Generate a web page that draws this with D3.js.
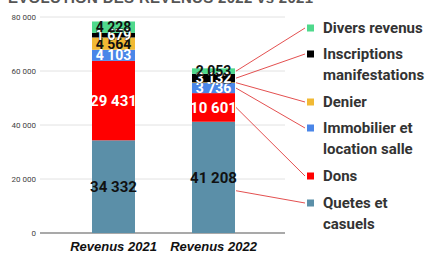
<!DOCTYPE html>
<html>
<head>
<meta charset="utf-8">
<script src="https://cdn.jsdelivr.net/npm/d3@7"></script>
<style>
  body { margin: 0; background: #fff; }
  svg { display: block; font-family: "Liberation Sans", Arial, sans-serif; }
</style>
</head>
<body>
<script>
var width = 445, height = 257;

// data
var years = ["Revenus 2021", "Revenus 2022"];
var seriesNames = ["Quetes et casuels", "Dons", "Immobilier et location salle", "Denier", "Inscriptions manifestations", "Divers revenus"];
var quetes = [34332, 41208];
var dons = [29431, 10601];
var immobilier = [4103, 3736];
var denier = [4564, 250];
var inscriptions = [1679, 3132];
var divers = [4228, 2053];
var yTicks = [0, 20000, 40000, 60000, 80000];

var colors = ["#5b8fa8", "#ff0000", "#4a86e8", "#f1b934", "#000000", "#4fd98c"];
var labelFill = ["#111", "#fff", "#fff", "#111", "#fff", "#111"];
var labelSize = [15, 15, 14, 14, 14, 14];

var legendLines = [["Divers revenus"], ["Inscriptions", "manifestations"], ["Denier"], ["Immobilier et", "location salle"], ["Dons"], ["Quetes et", "casuels"]];
var legendY = [28, 54, 102, 128, 176, 203];

var values = [quetes, dons, immobilier, denier, inscriptions, divers];
var table = years.map(function(y, i) {
  var row = { year: y };
  seriesNames.forEach(function(s, k) { row[s] = values[k][i]; });
  return row;
});
var stacked = d3.stack().keys(seriesNames)(table);

var svg = d3.select("body").append("svg")
  .attr("width", width)
  .attr("height", height);

var y = d3.scaleLinear().domain([0, 80000]).range([233, 17]);
var x = d3.scaleBand().domain(years).range([40, 287]).paddingInner(0.57).paddingOuter(0.52);

// title, mostly cut off at top
svg.append("text")
  .attr("x", 8).attr("y", 3)
  .attr("font-size", 15).attr("font-weight", "bold")
  .attr("fill", "#555")
  .attr("textLength", 305)
  .text("EVOLUTION DES REVENUS 2022 vs 2021");

// grid
svg.append("g").selectAll("line").data(yTicks).enter().append("line")
  .attr("x1", 40).attr("x2", 285)
  .attr("y1", function(d) { return y(d); })
  .attr("y2", function(d) { return y(d); })
  .attr("stroke", function(d) { return d == 0 ? "#555" : "#e2e2e2"; })
  .attr("stroke-width", function(d) { return d == 0 ? 1.2 : 1; });

var fmt = function(v) { return d3.format(",")(v).replace(/,/g, " "); };

var yAxis = d3.axisLeft(y).tickValues(yTicks).tickSize(0).tickFormat(fmt);
var gy = svg.append("g").attr("transform", "translate(36,0)").call(yAxis);
gy.select(".domain").remove();
gy.selectAll("text").attr("font-size", 8).attr("fill", "#444")
  .attr("font-family", "Roboto, sans-serif").attr("x", 0);

var xAxis = d3.axisBottom(x).tickSize(0);
var gx = svg.append("g").attr("transform", "translate(0,239)").call(xAxis);
gx.select(".domain").remove();
gx.selectAll("text").attr("font-size", 13).attr("font-weight", "bold")
  .attr("font-style", "italic").attr("fill", "#111")
  .attr("font-family", "'Liberation Sans', Arial, sans-serif");

// bars
var layers = svg.append("g").selectAll("g").data(stacked).enter().append("g")
  .attr("fill", function(d, i) { return colors[i]; });

layers.selectAll("rect").data(function(d) { return d; }).enter().append("rect")
  .attr("x", function(d) { return x(d.data.year); })
  .attr("width", x.bandwidth())
  .attr("y", function(d) { return y(d[1]); })
  .attr("height", function(d) { return y(d[0]) - y(d[1]); });

// value labels
stacked.forEach(function(layer, k) {
  layer.forEach(function(d, i) {
    var v = d[1] - d[0];
    if (v < 1000) return;
    var t = svg.append("text")
      .attr("x", x(d.data.year) + x.bandwidth() / 2)
      .attr("y", y((d[0] + d[1]) / 2))
      .attr("dy", "0.36em")
      .attr("text-anchor", "middle")
      .attr("font-family", "Roboto, sans-serif")
      .attr("font-weight", "bold")
      .attr("font-size", labelSize[k])
      .attr("fill", labelFill[k])
      .text(fmt(v));
    if (k == 4) t.attr("stroke", "#111").attr("stroke-width", 0.8).attr("paint-order", "stroke");
  });
});

// legend
var lx = 307;
var leg = svg.append("g");
seriesNames.slice().reverse().forEach(function(s, j) {
  var k = seriesNames.length - 1 - j;
  var ly = legendY[j];
  leg.append("rect").attr("x", lx).attr("y", ly - 3.5).attr("width", 7).attr("height", 7)
    .attr("fill", colors[k]);
  legendLines[j].forEach(function(line, n) {
    leg.append("text").attr("x", 323).attr("y", ly + n * 21).attr("dy", "0.36em")
      .attr("font-size", 15).attr("font-weight", "bold").attr("fill", "#333")
      .attr("font-family", "Roboto, 'Liberation Sans', sans-serif")
      .text(line);
  });
  // leader line from 2022 bar segment
  var seg = stacked[k][1];
  var sy = y((seg[0] + seg[1]) / 2);
  if (k == 0) sy = y(seg[0] + (seg[1] - seg[0]) * 0.38);
  leg.append("line")
    .attr("x1", x(years[1]) + x.bandwidth() + 1).attr("y1", sy)
    .attr("x2", lx - 2).attr("y2", ly)
    .attr("stroke", "#e03c3c").attr("stroke-width", 0.9);
});
</script>
</body>
</html>
